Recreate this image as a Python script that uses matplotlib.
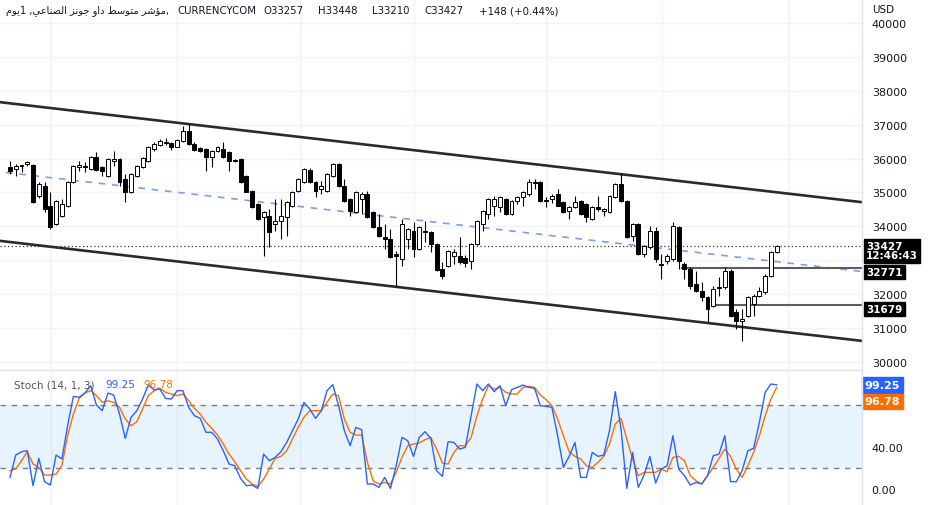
import numpy as np
import matplotlib.pyplot as plt

# daily candles, USD
opens = [35750, 35690, 35770, 35830, 35810, 34900, 35190, 34600, 34070, 34310,
         34600, 35310, 35750, 35780, 35690, 36050, 35760, 35490, 35940, 35990,
         35400, 35010, 35490, 35750, 35930, 36280, 36400, 36490, 36460, 36350,
         36520, 36810, 36430, 36310, 36280, 36050, 36220, 36280, 36190, 35960,
         35990, 35490, 35040, 34660, 34280, 34310, 34070, 34160, 34280, 34600,
         35040, 35310, 35660, 35310, 35100, 35040, 35490, 35840, 35190, 34810,
         34430, 34810, 34960, 34430, 33980, 33690, 33630, 33190, 33040, 33630,
         33860, 33330, 33870, 33840, 33480, 32740, 32830, 33130, 33130, 33070,
         32980, 33480, 34070, 34370, 34600, 34570, 34810, 34370, 34750, 34870,
         34960, 35310, 35310, 34780, 34810, 34960, 34720, 34450, 34570, 34750,
         34660, 34220, 34570, 34450, 34430, 34870, 35250, 34750, 33720, 34070,
         33190, 33390, 33860, 32890, 32980, 33040, 33980, 32890, 32740, 32300,
         32090, 31920, 31650, 32180, 32210, 32680, 31480, 31210, 31360, 31710,
         31950, 32070, 32540, 33257]
highs = [35930, 35840, 35810, 35930, 35840, 35310, 35310, 35010, 34780, 34810,
         35340, 35800, 35930, 35900, 36080, 36200, 35780, 36020, 36220, 36020,
         35550, 35570, 35810, 36050, 36370, 36490, 36580, 36610, 36490, 36580,
         36960, 37020, 36490, 36340, 36310, 36250, 36370, 36490, 36220, 35990,
         36020, 35520, 35070, 34690, 34450, 34510, 34810, 34810, 34750, 35040,
         35430, 35720, 35720, 35340, 35340, 35570, 35870, 35870, 35400, 34840,
         35040, 35010, 35040, 34460, 34370, 34070, 33920, 33270, 34220, 33960,
         34130, 34010, 34160, 33870, 33510, 32950, 33300, 33330, 33690, 33160,
         33510, 34190, 34480, 34840, 34900, 34900, 34840, 34780, 34900, 35040,
         35400, 35400, 35340, 34870, 34960, 35100, 34750, 34600, 34900, 34780,
         34690, 34600, 34900, 34540, 34930, 35280, 35550, 34780, 34100, 34100,
         33450, 34010, 33980, 33190, 33190, 34130, 34010, 32950, 32800, 32680,
         32360, 31950, 32240, 32510, 32800, 32740, 31560, 31560, 31950, 32010,
         32210, 32600, 33270, 33448]
lows = [35550, 35490, 35600, 35780, 34700, 34840, 34420, 33920, 34040, 34280,
        34580, 35280, 35630, 35600, 35660, 35630, 35490, 35460, 35780, 35190,
        34720, 34980, 35460, 35720, 35900, 36220, 36370, 36400, 36250, 36330,
        36490, 36400, 36220, 36190, 35630, 35750, 36190, 36020, 35630, 35900,
        35280, 35000, 34540, 34200, 33130, 33390, 33860, 33630, 33720, 34570,
        35010, 35280, 35280, 34870, 34960, 35010, 35460, 35160, 34720, 34310,
        34400, 34370, 34250, 33960, 33690, 33330, 33070, 32240, 32830, 33330,
        33100, 33300, 33540, 33250, 32680, 32450, 32800, 32890, 32890, 32800,
        32740, 33450, 33860, 34220, 34310, 34430, 34340, 34340, 34660, 34600,
        34900, 35100, 34720, 34570, 34700, 34600, 34400, 34220, 34540, 34340,
        34130, 34190, 34450, 34300, 34400, 34840, 34720, 33660, 33570, 33160,
        33100, 33330, 32950, 32450, 32890, 32980, 32740, 32450, 32150, 32060,
        31800, 31180, 31620, 31950, 32150, 31330, 30970, 30620, 31330, 31360,
        31920, 32010, 32510, 33210]
closes = [35630, 35780, 35800, 35900, 34720, 35250, 34510, 33980, 34750, 34660,
          35310, 35780, 35800, 35760, 36050, 35660, 35630, 35990, 35980, 35310,
          35010, 35550, 35780, 36020, 36340, 36430, 36520, 36460, 36340, 36550,
          36810, 36430, 36250, 36220, 36050, 36220, 36340, 36050, 35930, 35930,
          35310, 35020, 34570, 34220, 34420, 33840, 34160, 34310, 34720, 35010,
          35400, 35690, 35310, 35040, 35190, 35550, 35840, 35190, 34750, 34450,
          35020, 34960, 34280, 33980, 33720, 33630, 33100, 33130, 34070, 33920,
          33330, 33980, 33840, 33480, 32700, 32540, 33270, 33250, 32950, 32920,
          33480, 34160, 34450, 34810, 34810, 34870, 34370, 34750, 34870, 35020,
          35310, 35280, 34750, 34750, 34900, 34600, 34430, 34570, 34720, 34370,
          34280, 34570, 34510, 34510, 34900, 35250, 34750, 33690, 34070, 33190,
          33420, 33860, 33040, 32860, 33130, 34010, 32980, 32740, 32240, 32090,
          31920, 31560, 32150, 32210, 32680, 31360, 31210, 31270, 31920, 31950,
          32090, 32540, 33250, 33427]

# Stoch (14, 1, 3)
stoch_k = [11.1, 32.4, 35.5, 36.5, 3.2, 29.2, 7.0, 3.8, 32.4, 28.6,
           60.3, 88.3, 87.3, 91.4, 98.4, 80.0, 74.6, 91.4, 89.5, 71.4,
           48.2, 68.3, 74.6, 85.7, 99.0, 94.6, 95.2, 86.3, 85.7, 93.7,
           93.7, 77.8, 69.8, 67.3, 54.0, 54.0, 47.6, 36.5, 23.8, 22.2,
           10.1, 3.2, 3.8, 0.6, 33.3, 27.0, 30.2, 35.5, 44.4, 55.6,
           66.7, 82.5, 76.2, 67.3, 74.6, 93.7, 99.4, 79.4, 55.6, 41.3,
           58.7, 56.5, 4.8, 4.8, 1.6, 11.1, 0.6, 22.2, 49.2, 46.0,
           31.1, 49.2, 54.6, 48.2, 17.5, 12.1, 45.1, 44.4, 38.1, 39.7,
           69.8, 100.0, 93.7, 100.0, 92.7, 98.4, 79.4, 94.6, 96.8, 99.0,
           96.8, 95.9, 79.4, 78.7, 77.8, 50.8, 20.6, 31.1, 44.4, 11.1,
           11.1, 34.9, 31.1, 32.4, 55.6, 92.7, 57.1, 0.6, 34.9, 1.6,
           13.3, 31.1, 5.7, 19.0, 22.2, 50.8, 19.0, 12.7, 3.8, 6.3,
           4.8, 12.7, 31.7, 33.3, 50.8, 7.0, 7.0, 17.5, 36.5, 38.7,
           63.5, 92.1, 100.0, 99.25]
stoch_d = [17.5, 19.0, 27.0, 35.5, 23.8, 20.6, 13.3, 13.3, 14.3, 22.2,
           50.8, 71.4, 86.3, 91.4, 93.7, 88.9, 82.5, 84.1, 82.5, 77.8,
           66.7, 60.3, 64.1, 76.2, 88.9, 93.7, 95.9, 92.1, 90.5, 88.9,
           90.5, 84.1, 76.8, 71.4, 63.5, 57.8, 51.4, 42.9, 33.3, 26.0,
           17.5, 9.5, 4.8, 2.5, 9.5, 19.0, 29.2, 31.1, 36.5, 47.6,
           58.7, 68.3, 74.6, 74.6, 74.6, 82.5, 90.5, 88.9, 66.7, 54.0,
           51.4, 51.4, 25.4, 7.9, 4.8, 6.3, 4.8, 15.9, 30.2, 41.3,
           42.9, 43.8, 47.0, 49.2, 38.1, 24.8, 23.8, 34.9, 41.3, 41.3,
           49.2, 69.8, 85.7, 98.4, 95.2, 96.8, 92.1, 90.5, 90.5, 96.8,
           97.8, 96.8, 89.5, 85.1, 79.4, 66.7, 50.8, 35.5, 31.1, 28.6,
           22.2, 20.6, 25.4, 31.1, 42.9, 61.9, 67.3, 47.6, 28.6, 12.7,
           15.9, 15.9, 15.9, 19.0, 16.5, 30.2, 31.1, 27.0, 12.7, 7.9,
           4.8, 12.7, 20.6, 29.2, 38.1, 31.1, 19.0, 11.1, 22.2, 34.9,
           50.8, 69.8, 85.7, 96.78]

# drawings on the chart
upper_channel = [(-1.7, 37664), (147.8, 34714)]
lower_channel = [(-1.7, 33572), (147.8, 30622)]
mid_channel = [(-0.7, 35590), (147.8, 32668)]
levels = [(116.5, 32771), (122.6, 31679)]
month_lines = [7.1, 29.0, 50.3, 70.0, 93.1, 113.1, 135.0]
last_price = 33427
price_ticks = list(range(30000, 40001, 1000))

header_ar = "مؤشر متوسط داو جونز الصناعي"
header_day = "يوم"

FORMS = {
    'ا': ('\ufe8d', '\ufe8e', None, None), 'ؤ': ('\ufe85', '\ufe86', None, None),
    'د': ('\ufea9', '\ufeaa', None, None), 'ر': ('\ufead', '\ufeae', None, None),
    'ز': ('\ufeaf', '\ufeb0', None, None), 'و': ('\ufeed', '\ufeee', None, None),
    'ت': ('\ufe95', '\ufe96', '\ufe97', '\ufe98'), 'ج': ('\ufe9d', '\ufe9e', '\ufe9f', '\ufea0'),
    'س': ('\ufeb1', '\ufeb2', '\ufeb3', '\ufeb4'), 'ش': ('\ufeb5', '\ufeb6', '\ufeb7', '\ufeb8'),
    'ص': ('\ufeb9', '\ufeba', '\ufebb', '\ufebc'), 'ط': ('\ufec1', '\ufec2', '\ufec3', '\ufec4'),
    'ع': ('\ufec9', '\ufeca', '\ufecb', '\ufecc'), 'ل': ('\ufedd', '\ufede', '\ufedf', '\ufee0'),
    'م': ('\ufee1', '\ufee2', '\ufee3', '\ufee4'), 'ن': ('\ufee5', '\ufee6', '\ufee7', '\ufee8'),
    'ي': ('\ufef1', '\ufef2', '\ufef3', '\ufef4'),
}


def shape(word):
    # contextual forms, then visual (right-to-left) order
    out = []
    for i, ch in enumerate(word):
        f = FORMS[ch]
        jp = i > 0 and FORMS[word[i - 1]][2] is not None
        jn = i + 1 < len(word) and f[2] is not None
        out.append(f[3] if jp and jn else f[1] if jp else f[2] if jn else f[0])
    return ''.join(reversed(out))


TXT = '#131722'
GRID = '#f0f3fa'

fig = plt.figure(figsize=(9.4, 5.06), dpi=100)
W, H = 940, 506
ax = fig.add_axes([0, 1 - 370 / H, 862 / W, 370 / H])
ax2 = fig.add_axes([0, 0, 862 / W, 134 / H])

x = np.arange(len(closes))
o = np.array(opens)
c = np.array(closes)
up = c >= o

for a in (ax, ax2):
    for m in month_lines:
        a.axvline(m, color=GRID, lw=1, zorder=0)
    a.set_xlim(-1.73, 147.8)
    a.set_xticks([])
    for s in a.spines.values():
        s.set_visible(False)
    a.yaxis.tick_right()
    a.tick_params(axis='y', length=0, pad=7, labelsize=8, labelcolor=TXT)

for p in price_ticks:
    ax.axhline(p, color=GRID, lw=1, zorder=0)

# candles
ax.vlines(x, lows, highs, color='black', lw=0.8, zorder=3)
body = np.maximum(np.abs(c - o), 25)
ax.bar(x, body, bottom=np.minimum(o, c), width=0.68,
       color=np.where(up, 'white', 'black'), edgecolor='black', lw=0.7, zorder=4)

# channel
for pts, st, col, lw in [(upper_channel, '-', '#2a2a2a', 1.9),
                         (lower_channel, '-', '#2a2a2a', 1.9),
                         (mid_channel, (0, (4, 4)), '#7d9ee8', 1.2)]:
    ax.plot([pts[0][0], pts[1][0]], [pts[0][1], pts[1][1]], ls=st, color=col, lw=lw, zorder=2)
for start, lvl in levels:
    ax.plot([start, 147.8], [lvl, lvl], color='#5d5d5d', lw=1.5, zorder=2)
ax.axhline(last_price, color='#333333', lw=0.9, ls=(0, (1, 2)), zorder=2)

ax.set_ylim(29793, 40708)
ax.set_yticks(price_ticks)
# 33000 sits under the last-price label
ax.set_yticklabels(['' if p == 33000 else str(p) for p in price_ticks])

box = dict(boxstyle='square,pad=0.2', fc='black', ec='black')
ax.annotate('33427\n12:46:43', xy=(1, last_price), xycoords=('axes fraction', 'data'),
            xytext=(3, -3.5), textcoords='offset points', va='center', ha='left',
            color='white', fontsize=7.5, fontweight='bold', bbox=box, zorder=6,
            linespacing=0.95)
for _, lvl in levels:
    ax.annotate(f'{lvl}', xy=(1, lvl), xycoords=('axes fraction', 'data'),
                xytext=(3, -3), textcoords='offset points', va='center', ha='left',
                color='white', fontsize=7.5, fontweight='bold', bbox=box, zorder=6)

# stochastic pane
ax2.axhspan(20, 80, color='#2196f3', alpha=0.1, lw=0, zorder=0)
for lv in (20, 80):
    ax2.axhline(lv, color='#787b86', lw=1, ls=(0, (4, 4)), zorder=1)
ax2.plot(x, stoch_k, color='#2962ff', lw=1, zorder=3)
ax2.plot(x, stoch_d, color='#ff6d00', lw=1, zorder=2)
ax2.set_ylim(-15.2, 112.4)
ax2.set_yticks([0, 40])
ax2.set_yticklabels(['0.00', '40.00'])
ax2.annotate('99.25', xy=(1, stoch_k[-1]), xycoords=('axes fraction', 'data'),
             xytext=(2, 0), textcoords='offset points', va='center', ha='left',
             color='white', fontsize=8, fontweight='bold',
             bbox=dict(boxstyle='square,pad=0.25', fc='#2962ff', ec='#2962ff'))
ax2.annotate('96.78', xy=(1, stoch_d[-1]), xycoords=('axes fraction', 'data'),
             xytext=(2, -10), textcoords='offset points', va='center', ha='left',
             color='white', fontsize=8, fontweight='bold',
             bbox=dict(boxstyle='square,pad=0.25', fc='#ff6d00', ec='#ff6d00'))

# separators
fig.add_artist(plt.Line2D([862 / W, 862 / W], [0, 1], color='#e0e3eb', lw=1))
fig.add_artist(plt.Line2D([0, 862 / W], [1 - 371 / H, 1 - 371 / H], color='#e0e3eb', lw=1))


def ftext(px, py, s, **kw):
    fig.text(px / W, 1 - py / H, s, va='center', ha='left', **kw)


title_ar = shape(header_day) + '1 ,' + ' '.join(shape(w) for w in reversed(header_ar.split())) + ','
ftext(6, 11, title_ar, fontsize=7.1, color=TXT, family=['DejaVu Sans'])
for px, s in [(177, 'CURRENCYCOM'), (263, 'O33257'), (318, 'H33448'), (372, 'L33210'),
              (424, 'C33427'), (479, '+148 (+0.44%)')]:
    ftext(px, 11, s, fontsize=7.3, color=TXT)
ftext(872, 10, 'USD', fontsize=7.5, color=TXT)

ftext(14, 385, 'Stoch (14, 1, 3)', fontsize=7.5, color='#555555')
ftext(105, 385, '99.25', fontsize=7.5, color='#2962ff')
ftext(143, 385, '96.78', fontsize=7.5, color='#ff6d00')

fig.savefig('out.png', dpi=100)
plt.close()
